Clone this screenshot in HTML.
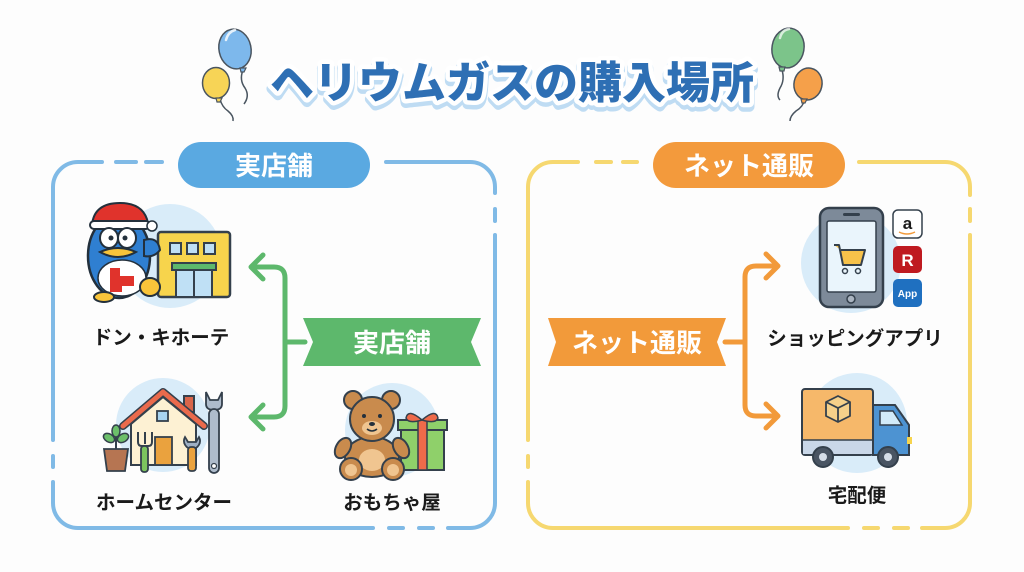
<!DOCTYPE html>
<html><head><meta charset="utf-8"><style>
html,body{margin:0;padding:0;background:#fdfdfd;}
svg{display:block;}
text{font-family:"Liberation Sans","Noto Sans CJK JP",sans-serif;}
</style></head><body>
<svg width="1024" height="572" viewBox="0 0 1024 572" xmlns="http://www.w3.org/2000/svg">
<rect width="1024" height="572" fill="#fdfdfd"/>

<!-- Balloons left -->
<g stroke="#4a5560" stroke-width="1.5" fill="none">
  <path d="M243 70 q-4 10 2 18 q5 8 -1 16"/>
  <path d="M220 99 q2 8 8 12 q6 5 5 10"/>
  <path d="M782 70 q3 10 -2 18 q-4 8 0 12"/>
  <path d="M805 99 q-2 8 -9 12 q-6 5 -6 10"/>
</g>
<ellipse cx="235" cy="49" rx="16" ry="20" transform="rotate(-12 235 49)" fill="#7db8ec" stroke="#4a5560" stroke-width="1.5"/>
<path d="M240 68 l6 0 l-2 4 l-3 0z" fill="#7db8ec" stroke="#4a5560" stroke-width="1.2"/>
<path d="M226 40 q2 -8 9 -10" stroke="#fff" stroke-width="2.5" fill="none" stroke-linecap="round" opacity=".8"/>
<ellipse cx="216" cy="83" rx="13.5" ry="15.5" fill="#f7d456" stroke="#4a5560" stroke-width="1.5"/>
<path d="M216 98 l6 0 l-2 4 l-3 0z" fill="#f7d456" stroke="#4a5560" stroke-width="1.2"/>
<ellipse cx="788" cy="48" rx="16" ry="20" transform="rotate(10 788 48)" fill="#7cc48a" stroke="#4a5560" stroke-width="1.5"/>
<path d="M779 67 l6 0 l-1 4 l-4 0z" fill="#7cc48a" stroke="#4a5560" stroke-width="1.2"/>
<path d="M780 38 q2 -8 9 -9" stroke="#fff" stroke-width="2.5" fill="none" stroke-linecap="round" opacity=".7"/>
<ellipse cx="808" cy="84" rx="14" ry="16" transform="rotate(12 808 84)" fill="#f5a04a" stroke="#4a5560" stroke-width="1.5"/>
<path d="M801 99 l6 0 l-2 4 l-3 0z" fill="#f5a04a" stroke="#4a5560" stroke-width="1.2"/>

<!-- Title -->
<g font-size="44" font-weight="900" text-anchor="middle">
  <text x="512" y="102" fill="#bfdcf3" stroke="#bfdcf3" stroke-width="10" stroke-linejoin="round">ヘリウムガスの購入場所</text>
  <text x="512" y="98" fill="#fff" stroke="#fff" stroke-width="9" stroke-linejoin="round">ヘリウムガスの購入場所</text>
  <text x="512" y="98" fill="#2e6fb4">ヘリウムガスの購入場所</text>
</g>

<!-- Left box -->
<g stroke="#80bae6" stroke-width="4" fill="none" stroke-linecap="round">
  <path d="M53 440 L53 187 A25 25 0 0 1 78 162 L102 162"/>
  <path d="M116 162 L136 162"/><path d="M146 162 L162 162"/>
  <path d="M386 162 L470 162 A25 25 0 0 1 495 187 L495 193"/>
  <path d="M495 209 L495 221"/>
  <path d="M495 235 L495 503 A25 25 0 0 1 470 528 L448 528"/>
  <path d="M433 528 L419 528"/><path d="M403 528 L389 528"/>
  <path d="M373 528 L78 528 A25 25 0 0 1 53 503 L53 482"/>
  <path d="M53 456 L53 467"/>
</g>
<rect x="178" y="142" width="192" height="46" rx="23" fill="#5aa9e1"/>
<text x="274" y="175" font-size="26" font-weight="700" fill="#fff" text-anchor="middle">実店舗</text>

<!-- Right box -->
<g stroke="#f6d870" stroke-width="4" fill="none" stroke-linecap="round">
  <path d="M528 440 L528 187 A25 25 0 0 1 553 162 L578 162"/>
  <path d="M596 162 L611 162"/><path d="M623 162 L637 162"/>
  <path d="M859 162 L945 162 A25 25 0 0 1 970 187 L970 195"/>
  <path d="M970 209 L970 221"/>
  <path d="M970 235 L970 503 A25 25 0 0 1 945 528 L922 528"/>
  <path d="M908 528 L894 528"/><path d="M878 528 L864 528"/>
  <path d="M848 528 L553 528 A25 25 0 0 1 528 503 L528 482"/>
  <path d="M528 456 L528 467"/>
</g>
<rect x="653" y="142" width="192" height="46" rx="23" fill="#f39a3c"/>
<text x="749" y="175" font-size="26" font-weight="700" fill="#fff" text-anchor="middle">ネット通販</text>

<!-- Green connector & banner -->
<g stroke="#5db86c" stroke-width="5" fill="none" stroke-linecap="round" stroke-linejoin="round">
  <path d="M305 342 L285 342"/>
  <path d="M252 267 L274 267 Q285 267 285 278 L285 406 Q285 417 274 417 L252 417"/>
  <path d="M263 255 L251 267 L263 279"/>
  <path d="M263 405 L251 417 L263 429"/>
</g>
<polygon points="303,318 481,318 471,342 481,366 303,366 313,342" fill="#5db86c"/>
<text x="392" y="352" font-size="26" font-weight="700" fill="#fff" text-anchor="middle">実店舗</text>

<!-- Orange connector & banner -->
<g stroke="#f29a3a" stroke-width="5" fill="none" stroke-linecap="round" stroke-linejoin="round">
  <path d="M725 342 L745 342"/>
  <path d="M777 266 L756 266 Q745 266 745 277 L745 405 Q745 416 756 416 L777 416"/>
  <path d="M766 254 L778 266 L766 278"/>
  <path d="M766 404 L778 416 L766 428"/>
</g>
<polygon points="548,318 726,318 717,342 726,366 548,366 556,342" fill="#f29a3a"/>
<text x="637" y="352" font-size="26" font-weight="700" fill="#fff" text-anchor="middle">ネット通販</text>

<!-- Donki icon -->
<circle cx="170" cy="256" r="52" fill="#d9ecf9"/>
<rect x="158" y="232" width="72" height="65" rx="3" fill="#f7d44c" stroke="#34404c" stroke-width="2.5"/>
<g fill="#bfe0f5" stroke="#34404c" stroke-width="2">
  <rect x="170" y="243" width="11" height="11"/><rect x="187" y="243" width="11" height="11"/><rect x="204" y="243" width="11" height="11"/>
  <rect x="176" y="270" width="36" height="27"/>
</g>
<rect x="172" y="263" width="44" height="7" fill="#5db86c" stroke="#34404c" stroke-width="2"/>
<line x1="194" y1="270" x2="194" y2="297" stroke="#34404c" stroke-width="2"/>
<ellipse cx="119" cy="256" rx="31" ry="42" fill="#2f7fd1" stroke="#23303c" stroke-width="2.5"/>
<path d="M144 240 q14 -4 16 10 q-6 8 -16 6z" fill="#2f7fd1" stroke="#23303c" stroke-width="2"/>
<path d="M92 225 q2 -22 28 -22 q24 0 28 20z" fill="#e0332c" stroke="#23303c" stroke-width="2"/>
<rect x="90" y="221" width="60" height="8" rx="4" fill="#fff" stroke="#23303c" stroke-width="2"/>
<circle cx="152" cy="226" r="5" fill="#fff" stroke="#23303c" stroke-width="1.5"/>
<ellipse cx="109" cy="238" rx="9" ry="10" fill="#fff" stroke="#23303c" stroke-width="2"/>
<ellipse cx="127" cy="238" rx="9" ry="10" fill="#fff" stroke="#23303c" stroke-width="2"/>
<circle cx="111" cy="238" r="2.5" fill="#23303c"/><circle cx="125" cy="238" r="2.5" fill="#23303c"/>
<path d="M100 252 q18 -8 36 0 q-18 10 -36 0z" fill="#f8c43a" stroke="#23303c" stroke-width="2"/>
<ellipse cx="122" cy="278" rx="24" ry="18" fill="#fff" stroke="#23303c" stroke-width="1.5"/>
<path d="M110 268 h10 v8 h14 v10 h-12 v6 h-12z" fill="#e0332c"/>
<ellipse cx="104" cy="297" rx="10" ry="5" fill="#f8c43a" stroke="#23303c" stroke-width="2"/>
<ellipse cx="150" cy="287" rx="10" ry="9" fill="#f8c43a" stroke="#23303c" stroke-width="2"/>
<text x="161" y="344" font-size="19.5" font-weight="700" fill="#1a1a1a" text-anchor="middle">ドン・キホーテ</text>

<!-- Home center icon -->
<circle cx="163" cy="425" r="47" fill="#d9ecf9"/>
<rect x="184" y="396" width="10" height="16" fill="#d9654a" stroke="#34404c" stroke-width="2"/>
<path d="M131 424 L163 397 L196 424 L196 465 L131 465z" fill="#fdf1d3" stroke="#34404c" stroke-width="2"/>
<path d="M123 426 L163 392 L204 426" stroke="#34404c" stroke-width="8" fill="none" stroke-linejoin="round" stroke-linecap="round"/>
<path d="M123 426 L163 392 L204 426" stroke="#ea6a4c" stroke-width="5" fill="none" stroke-linejoin="round" stroke-linecap="round"/>
<rect x="157" y="411" width="11" height="10" fill="#a8d4f0" stroke="#34404c" stroke-width="1.8"/>
<rect x="155" y="437" width="17" height="28" fill="#eaa23e" stroke="#34404c" stroke-width="1.8"/>
<path d="M104 449 h24 l-3 22 h-18z" fill="#b67552" stroke="#34404c" stroke-width="1.8"/>
<path d="M116 449 v-12" stroke="#34404c" stroke-width="2"/>
<ellipse cx="109" cy="438" rx="6" ry="4" fill="#6cbf6a" stroke="#34404c" stroke-width="1.5" transform="rotate(30 109 438)"/>
<ellipse cx="123" cy="438" rx="6" ry="4" fill="#6cbf6a" stroke="#34404c" stroke-width="1.5" transform="rotate(-30 123 438)"/>
<ellipse cx="116" cy="431" rx="4" ry="6" fill="#6cbf6a" stroke="#34404c" stroke-width="1.5"/>
<path d="M138 432 v10 q0 4 4 4 h6 q4 0 4 -4 v-10 M145 432 v12" stroke="#34404c" stroke-width="2" fill="none"/>
<rect x="141" y="446" width="7" height="26" rx="3" fill="#7cc45e" stroke="#34404c" stroke-width="1.8"/>
<path d="M185 437 a8 8 0 1 0 14 0 l-3 5 h-8z" fill="#9fb0c4" stroke="#34404c" stroke-width="1.8"/>
<rect x="188" y="447" width="8" height="24" rx="3" fill="#eaa23e" stroke="#34404c" stroke-width="1.8"/>
<path d="M206 392 v12 q0 6 8 6 q8 0 8 -6 v-12 l-4 8 h-8z" fill="#aebccc" stroke="#34404c" stroke-width="1.8"/>
<rect x="209" y="409" width="10" height="64" rx="5" fill="#aebccc" stroke="#34404c" stroke-width="1.8"/>
<circle cx="214" cy="466" r="2.5" fill="#fff" stroke="#34404c" stroke-width="1.2"/>
<text x="164" y="509" font-size="19.5" font-weight="700" fill="#1a1a1a" text-anchor="middle">ホームセンター</text>

<!-- Toy icon -->
<circle cx="392" cy="430" r="47" fill="#d9ecf9"/>
<rect x="401" y="428" width="43" height="42" fill="#8fd06a" stroke="#34404c" stroke-width="2"/>
<rect x="398" y="420" width="49" height="10" fill="#8fd06a" stroke="#34404c" stroke-width="2"/>
<rect x="418" y="420" width="9" height="50" fill="#ee6a4a" stroke="#34404c" stroke-width="1.5"/>
<path d="M422 420 q-14 -12 -16 -2 q2 6 16 2 q14 -12 16 -2 q-2 6 -16 2" fill="#ee6a4a" stroke="#34404c" stroke-width="1.5"/>
<circle cx="353" cy="400" r="9" fill="#c98b4d" stroke="#34404c" stroke-width="2"/>
<circle cx="391" cy="400" r="9" fill="#c98b4d" stroke="#34404c" stroke-width="2"/>
<ellipse cx="372" cy="457" rx="27" ry="20" fill="#c98b4d" stroke="#34404c" stroke-width="2"/>
<ellipse cx="343" cy="448" rx="7" ry="11" fill="#c98b4d" stroke="#34404c" stroke-width="2" transform="rotate(30 343 448)"/>
<ellipse cx="401" cy="448" rx="7" ry="11" fill="#c98b4d" stroke="#34404c" stroke-width="2" transform="rotate(-30 401 448)"/>
<circle cx="372" cy="419" r="22" fill="#c98b4d" stroke="#34404c" stroke-width="2"/>
<ellipse cx="372" cy="428" rx="10" ry="7" fill="#f0c590"/>
<circle cx="364" cy="416" r="2" fill="#23303c"/><circle cx="380" cy="416" r="2" fill="#23303c"/>
<ellipse cx="372" cy="424" rx="3" ry="2" fill="#23303c"/>
<path d="M367 429 q5 4 10 0" stroke="#23303c" stroke-width="1.5" fill="none"/>
<ellipse cx="372" cy="460" rx="13" ry="11" fill="#f0c590"/>
<circle cx="351" cy="469" r="11" fill="#c98b4d" stroke="#34404c" stroke-width="2"/>
<circle cx="393" cy="469" r="11" fill="#c98b4d" stroke="#34404c" stroke-width="2"/>
<circle cx="351" cy="470" r="6" fill="#f0c590"/><circle cx="393" cy="470" r="6" fill="#f0c590"/>
<text x="392" y="509" font-size="19.5" font-weight="700" fill="#1a1a1a" text-anchor="middle">おもちゃ屋</text>

<!-- Shopping app icon -->
<circle cx="851" cy="263" r="50" fill="#d9ecf9"/>
<rect x="820" y="208" width="63" height="99" rx="9" fill="#7d8a99" stroke="#34404c" stroke-width="2.5"/>
<rect x="827" y="221" width="49" height="71" rx="2" fill="#eaf5fc" stroke="#34404c" stroke-width="1.5"/>
<rect x="843" y="213" width="17" height="3" rx="1.5" fill="#34404c"/>
<circle cx="851" cy="299" r="4" fill="#aab4c0" stroke="#34404c" stroke-width="1.5"/>
<path d="M834 245 h5 l4 20 h18 l4 -15 h-24" fill="#f7c24a" stroke="#34404c" stroke-width="2" stroke-linejoin="round"/>
<circle cx="845" cy="271" r="2.5" fill="none" stroke="#34404c" stroke-width="1.5"/>
<circle cx="858" cy="271" r="2.5" fill="none" stroke="#34404c" stroke-width="1.5"/>
<rect x="893" y="210" width="29" height="28" rx="5" fill="#fff" stroke="#34404c" stroke-width="1.5"/>
<text x="907.5" y="229" font-size="17" font-weight="700" fill="#1a1a1a" text-anchor="middle">a</text>
<path d="M899 232 q8 4 16 0" stroke="#f29a3a" stroke-width="1.5" fill="none"/>
<rect x="893" y="246" width="29" height="27" rx="5" fill="#bf1a20"/>
<text x="907.5" y="266" font-size="17" font-weight="700" fill="#fff" text-anchor="middle">R</text>
<rect x="893" y="279" width="29" height="28" rx="5" fill="#1f70c0"/>
<text x="907.5" y="297" font-size="10" font-weight="700" fill="#fff" text-anchor="middle">App</text>
<text x="855" y="345" font-size="19.5" font-weight="700" fill="#1a1a1a" text-anchor="middle">ショッピングアプリ</text>

<!-- Truck icon -->
<circle cx="857" cy="423" r="50" fill="#d9ecf9"/>
<path d="M873 405 h22 l14 20 v30 h-36z" fill="#4d93d2" stroke="#34404c" stroke-width="2"/>
<path d="M880 411 h13 l9 14 h-22z" fill="#d2ebf9" stroke="#34404c" stroke-width="1.5"/>
<rect x="907" y="437" width="5" height="7" fill="#f7d44c"/>
<rect x="802" y="389" width="71" height="66" rx="3" fill="#f6b86a" stroke="#34404c" stroke-width="2"/>
<rect x="803" y="440" width="69" height="14" fill="#c9d7e8"/>
<line x1="802" y1="440" x2="873" y2="440" stroke="#34404c" stroke-width="1.5"/>
<path d="M826 402 l12 -6 l12 6 v14 l-12 6 l-12 -6z" fill="#f5d08a" stroke="#34404c" stroke-width="1.8" stroke-linejoin="round"/>
<path d="M826 402 l12 6 l12 -6 M838 408 v14" stroke="#34404c" stroke-width="1.8" fill="none"/>
<circle cx="823" cy="457" r="10" fill="#4a5563" stroke="#34404c" stroke-width="2"/>
<circle cx="823" cy="457" r="4" fill="#d6dee8"/>
<circle cx="888" cy="457" r="10" fill="#4a5563" stroke="#34404c" stroke-width="2"/>
<circle cx="888" cy="457" r="4" fill="#d6dee8"/>
<text x="857" y="502" font-size="19.5" font-weight="700" fill="#1a1a1a" text-anchor="middle">宅配便</text>
</svg>
</body></html>
